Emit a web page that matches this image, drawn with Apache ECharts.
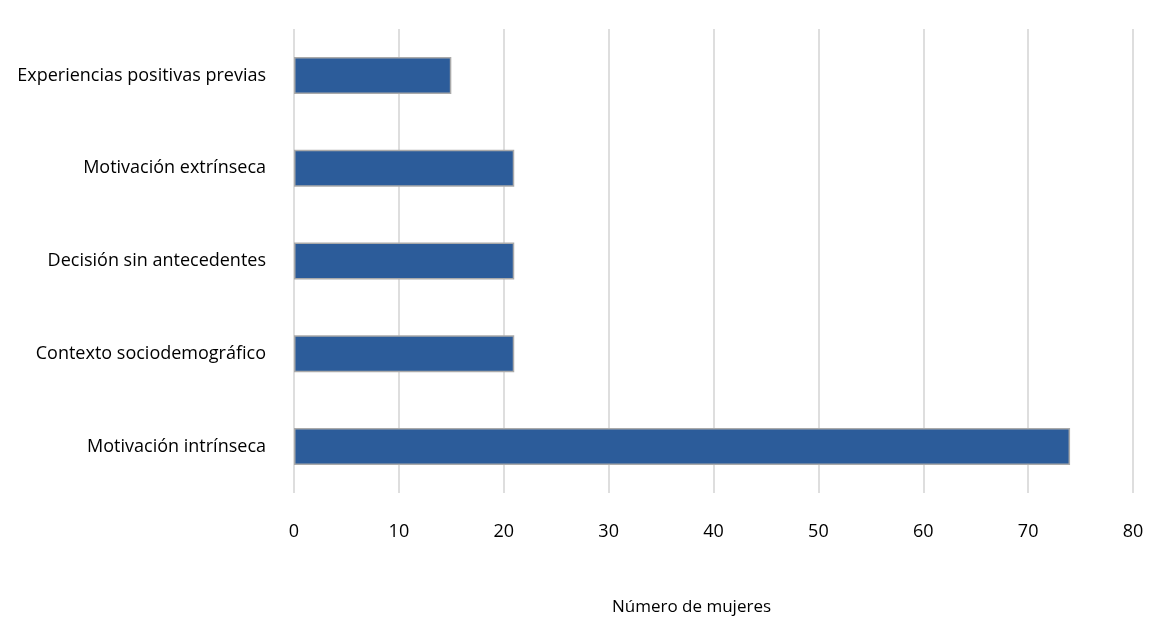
<!DOCTYPE html>
<html><head><meta charset="utf-8">
<script src="https://cdn.jsdelivr.net/npm/echarts@6/dist/echarts.min.js"></script>
<style>html,body{margin:0;padding:0;background:#fff}#c{width:1151px;height:644px}</style>
</head><body><div id="c"></div>
<script>
const categories = ["Motivación intrínseca","Contexto sociodemográfico","Decisión sin antecedentes","Motivación extrínseca","Experiencias positivas previas"];
const values = [74, 21, 21, 21, 15];
const xTicks = {min: 0, max: 80, interval: 10};
const xName = "Número de mujeres";

const chart = echarts.init(document.getElementById('c'));
const font = "'Open Sans', 'Noto Sans', sans-serif";
chart.setOption({
  animation: false,
  grid: {left: 294, right: 18, top: 29, bottom: 151, containLabel: false},
  xAxis: {
    type: 'value', min: xTicks.min, max: xTicks.max, interval: xTicks.interval,
    name: xName, nameLocation: 'middle', nameGap: 106,
    nameTextStyle: {fontFamily: font, fontSize: 17, color: '#000', padding: [0, 44, 0, 0]},
    axisLine: {show: false}, axisTick: {show: false},
    axisLabel: {fontFamily: font, fontSize: 18, color: '#000', margin: 30},
    splitLine: {show: true, lineStyle: {color: '#dedede', width: 2}}
  },
  yAxis: {
    type: 'category', data: categories,
    axisLine: {show: false}, axisTick: {show: false},
    axisLabel: {fontFamily: font, fontSize: 18, color: '#000', margin: 28}
  },
  series: [{
    type: 'bar', data: values, barWidth: 37,
    itemStyle: {color: '#2C5C9A', borderColor: '#aaaaaa', borderWidth: 1.5}
  }]
});
</script></body></html>
